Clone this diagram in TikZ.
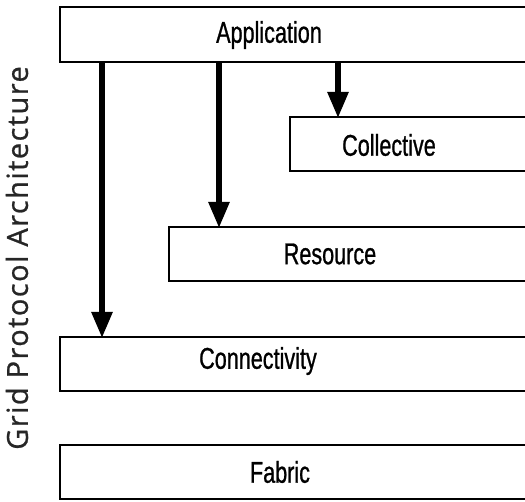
\documentclass[tikz,border=0pt]{standalone}
\usepackage{fontspec}
\usetikzlibrary{arrows.meta}
\newfontfamily\layerfont[FakeStretch=0.72,FakeBold=0.8]{Liberation Sans}
\newfontfamily\sidefont[LetterSpace=5,FakeBold=0.8]{Open Sans}
\begin{document}
\begin{tikzpicture}[x=1pt,y=-1pt,
  layer/.style={draw=black, line width=1.3pt, fill=white},
  lbl/.style={font=\layerfont\fontsize{30}{30}\selectfont, inner sep=0pt},
  callarrow/.style={line width=5.5pt, -{Triangle[width=20pt,length=26pt]}}]
\useasboundingbox (0,0) rectangle (525,502);
\begin{scope}
\clip (0,0) rectangle (525,502);
% protocol layers
\draw[layer] (60,7) rectangle (535,62);
\draw[layer] (290,117) rectangle (535,171);
\draw[layer] (169,227) rectangle (535,281);
\draw[layer] (60,337) rectangle (535,391);
\draw[layer] (60,445) rectangle (535,499);
\end{scope}
\node[lbl] (app) at (269,35) {Application};
\node[lbl] (col) at (389,145) {Collective};
\node[lbl] (res) at (330,254) {Resource};
\node[lbl] (con) at (258,361) {Connectivity};
\node[lbl] (fab) at (280,472) {Fabric};
% hooks on the layer boundaries
\coordinate (a1) at (102,62);  \coordinate (t1) at (102,338);
\coordinate (a2) at (219,62);  \coordinate (t2) at (219,228);
\coordinate (a3) at (338,62);  \coordinate (t3) at (338,118);
\draw[callarrow] (a1) -- (t1);
\draw[callarrow] (a2) -- (t2);
\draw[callarrow] (a3) -- (t3);
% side caption
\node[rotate=90, text=black!85, inner sep=0pt,
      font=\sidefont\fontsize{29}{29}\selectfont] (cap) at (17,258)
      {Grid Protocol Architecture};
\end{tikzpicture}
\end{document}
